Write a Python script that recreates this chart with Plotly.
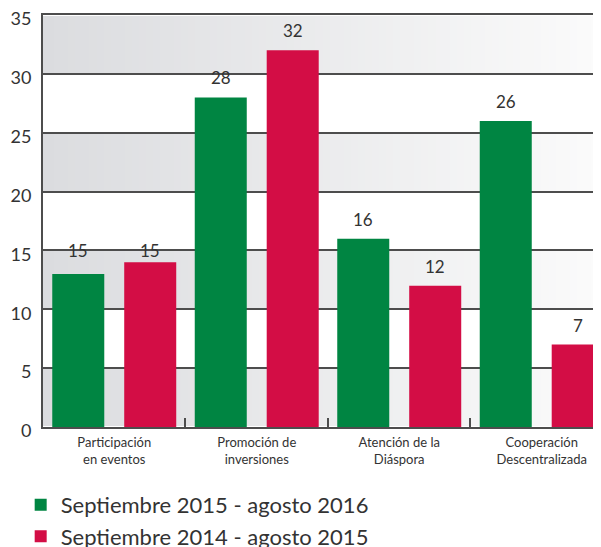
import numpy as np
import plotly.graph_objects as go

# Data
categories = ["Participación<br>en eventos", "Promoción de<br>inversiones",
              "Atención de la<br>Diáspora", "Cooperación<br>Descentralizada"]
series_names = ["Septiembre 2015 - agosto 2016", "Septiembre 2014 - agosto 2015"]
values_2016 = [13, 28, 16, 26]     # drawn bar heights
values_2015 = [14, 32, 12, 7]
labels_2016 = [15, 28, 16, 26]     # printed data labels (first group differs from the drawn bar)
labels_2015 = [15, 32, 12, 7]
y_ticks = [0, 5, 10, 15, 20, 25, 30, 35]

GREEN = "#008542"
RED = "#d30d45"
TEXT = "#333333"
GRID = "#4d4d4d"
FONT = "Lato, sans-serif"

BAR_W = 0.365
OFFSETS = [-0.435, 0.07]
X_RANGE = [-0.5, 3.416]

fig = go.Figure()

# Alternating background bands with a horizontal light-gray gradient
n_cols = 80
hx = np.linspace(X_RANGE[0], X_RANGE[1], n_cols)
band_centres = [(a + b) / 2 for a, b in zip(y_ticks[:-1], y_ticks[1:])]
grad = np.linspace(0, 1, n_cols)
hz = [list(grad) if i % 2 == 0 else [None] * n_cols for i in range(len(band_centres))]
fig.add_trace(go.Heatmap(
    x=hx, y=band_centres, z=hz, ygap=2,
    colorscale=[[0, "#dbdcdf"], [1, "#fbfbfb"]], showscale=False,
    hoverinfo="skip",
))

x_pos = list(range(len(categories)))
for name, vals, labs, color, off in zip(series_names, [values_2016, values_2015],
                                        [labels_2016, labels_2015], [GREEN, RED], OFFSETS):
    fig.add_trace(go.Bar(
        x=x_pos, y=vals, name=name, width=BAR_W, offset=off,
        marker=dict(color=color, line=dict(width=0)),
        hovertemplate="%{y}<extra></extra>",
    ))
    for xi, v, lab in zip(x_pos, vals, labs):
        matched = lab == v
        fig.add_annotation(
            x=xi + off + BAR_W / 2, y=lab, text=str(lab), showarrow=False,
            yanchor="bottom" if matched else "middle", yshift=7 if matched else 0,
            font=dict(size=17, color=TEXT, family=FONT),
        )

# page body adds an 8px offset, so the figure is sized to the visible window
fig.update_layout(
    width=593, height=539,
    margin=dict(l=35, r=0, t=7, b=120, autoexpand=False),
    paper_bgcolor="white", plot_bgcolor="white",
    barmode="overlay",
    font=dict(family=FONT, color=TEXT),
    showlegend=True,
    legend=dict(
        orientation="v", x=-0.04, xanchor="left", y=-0.138, yanchor="top",
        font=dict(size=22, color=TEXT, family=FONT), tracegroupgap=0,
        itemwidth=30, bgcolor="rgba(0,0,0,0)",
    ),
)
fig.update_xaxes(
    range=X_RANGE, tickmode="array", tickvals=x_pos, ticktext=categories,
    ticks="", showgrid=False, zeroline=False, automargin=False,
    showline=True, mirror=True, linecolor=GRID, linewidth=2,
    tickfont=dict(size=13, color=TEXT, family=FONT), ticklabelstandoff=2,
    minor=dict(tickmode="array", tickvals=[0.5, 1.5, 2.5], ticks="inside",
               ticklen=9, tickwidth=2, tickcolor=GRID),
)
fig.update_yaxes(
    range=[0, 35], tickmode="array", tickvals=y_ticks, automargin=False,
    showgrid=True, gridcolor=GRID, gridwidth=2, zeroline=False,
    showline=True, linecolor=GRID, linewidth=2, ticks="",
    tickfont=dict(size=18, color=TEXT, family=FONT), ticklabelstandoff=6,
    ticklabelshift=4, ticklabeloverflow="allow",
)

fig.write_html("out.html")
